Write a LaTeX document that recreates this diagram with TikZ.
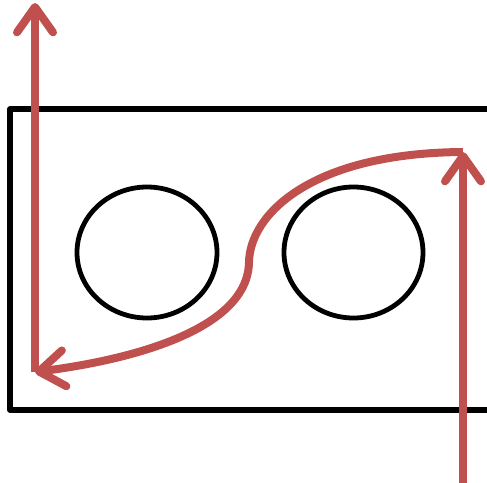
\documentclass[tikz,border=0pt]{standalone}
\usetikzlibrary{arrows.meta}
\definecolor{redarrow}{HTML}{C0504D}
\begin{document}
\begin{tikzpicture}[x=0.75pt,y=-0.75pt,
  frame/.style={line width=3.8pt,line join=round,line cap=round},
  hole/.style={line width=3.6pt},
  flow/.style={draw=redarrow,line width=6pt,line join=round,
    -{Straight Barb[length=19pt,width=27pt,round]}}]
\useasboundingbox (0,0) rectangle (487,483);
\clip (0,0) rectangle (487,483);
\coordinate (tl) at (10,109);
\coordinate (bl) at (10,410);
\coordinate (tr) at (495,109);
\coordinate (br) at (495,410);
\draw[frame] (tr) -- (tl) -- (bl) -- (br);
\draw[hole] (147,252.5) ellipse [x radius=70,y radius=65.5];
\draw[hole] (353.5,252.5) ellipse [x radius=69.5,y radius=65.5];
\coordinate (rbot) at (463,483);
\coordinate (rtop) at (463,152);
\coordinate (mid) at (249,262);
\coordinate (lcorner) at (35,372);
\coordinate (ltop) at (35,3);
\draw[flow] (rbot) -- (rtop);
\draw[flow] (rtop) .. controls (310,153) and (250,215) .. (mid)
  .. controls (248,330) and (130,360) .. (lcorner);
\draw[flow] (lcorner) -- (ltop);
\end{tikzpicture}
\end{document}
